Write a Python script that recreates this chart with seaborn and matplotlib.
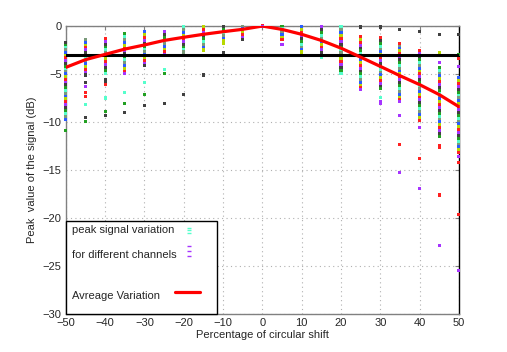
import numpy as np
import pandas as pd
import matplotlib
matplotlib.use("Agg")
import matplotlib.pyplot as plt
import seaborn as sns
from matplotlib.patches import Rectangle

# circular shift (%) and average peak variation (dB)
shifts = [-50, -45, -40, -35, -30, -25, -20, -15, -10, -5, 0,
          5, 10, 15, 20, 25, 30, 35, 40, 45, 50]
avg_db = [-4.3, -3.5, -2.95, -2.4, -1.97, -1.5, -1.17, -0.86, -0.59, -0.34, 0.0,
          -0.35, -0.86, -1.5, -2.3, -3.24, -4.2, -5.17, -6.1, -7.14, -8.4]

# peak values of the different channels, one list per shift
col_m50 = [-1.7, -2.0, -2.2, -2.5, -2.8, -3.1, -3.3, -3.6, -3.9, -4.2, -4.5, -4.7, -5.0, -5.3, -5.6,
           -5.9, -6.1, -6.4, -6.7, -7.0, -7.3, -7.6, -7.9, -8.2, -8.5, -8.8, -9.1, -9.4, -9.7]
col_m45 = [-1.4, -1.7, -2.0, -2.2, -2.5, -2.8, -3.1, -3.4, -3.6, -3.9, -4.2, -4.5, -4.8, -5.1]
col_m40 = [-1.3, -1.6, -1.9, -2.2, -2.5, -2.8, -3.1, -3.4, -3.7, -4.0, -4.3, -4.6, -4.9]
col_m35 = [-0.8, -1.1, -1.4, -1.7, -2.0, -2.3, -2.6, -2.9, -3.2, -3.5, -3.8, -4.1, -4.4, -4.7, -4.9]
col_m30 = [-0.6, -0.9, -1.2, -1.5, -1.8, -2.1, -2.4, -2.7, -3.0, -3.3, -3.6, -3.9, -4.1]
col_m25 = [-0.6, -0.9, -1.2, -1.5, -1.8, -2.1, -2.4, -2.7, -3.0]
col_m20 = [-0.1, -0.4, -0.7, -1.0, -1.3, -1.6, -1.9, -2.2, -2.5, -2.7]
col_m15 = [-0.1, -0.4, -0.7, -1.0, -1.3, -1.6, -1.9, -2.2, -2.5]
col_m10 = [-0.1, -0.4, -0.7, -1.0, -1.3, -1.5]
col_m5 = [-0.05, -0.3, -0.6, -0.9, -1.2, -1.4]
col_0 = [0.0, -0.05]
col_5 = [-0.05, -0.3, -0.6, -0.9, -1.2, -1.4]
col_10 = [-0.1, -0.4, -0.7, -1.0, -1.3, -1.6, -1.9, -2.2, -2.5, -2.7]
col_15 = [-0.1, -0.4, -0.7, -1.0, -1.3, -1.6, -1.9, -2.2, -2.5, -2.8, -3.1, -3.3]
col_20 = [-0.1, -0.4, -0.7, -1.0, -1.3, -1.6, -1.9, -2.2, -2.5, -2.8, -3.1, -3.4, -3.7,
          -4.0, -4.3, -4.6, -4.9]
col_25 = [-1.4, -1.7, -2.0, -2.3, -2.6, -2.9, -3.2, -3.5, -3.8, -4.1, -4.4, -4.7, -5.0,
          -5.3, -5.6, -5.9, -6.2, -6.4, -6.6]
col_30 = [-1.5, -1.8, -2.1, -2.4, -2.7, -3.0, -3.3, -3.6, -3.9, -4.2, -4.5, -4.8, -5.1,
          -5.4, -5.7, -6.0, -6.3, -6.5]
col_35 = [-2.0, -2.3, -2.6, -2.9, -3.2, -3.5, -3.8, -4.1, -4.4, -4.7, -5.0, -5.3, -5.6,
          -5.9, -6.2, -6.5, -6.8, -7.1, -7.4, -7.7, -7.9]
col_40 = [-2.6, -2.9, -3.2, -3.5, -3.8, -4.1, -4.4, -4.7, -5.0, -5.3, -5.6, -5.9, -6.2,
          -6.5, -6.8, -7.1, -7.4, -7.7, -8.0, -8.3, -8.6, -8.9, -9.2, -9.5, -9.8]
col_45 = [-4.3, -4.6, -4.9, -5.2, -5.5, -5.8, -6.1, -6.4, -6.7, -7.0, -7.3, -7.6, -7.9,
          -8.2, -8.5, -8.8, -9.1, -9.4, -9.7, -10.0, -10.3, -10.6, -10.9, -11.2, -11.5]
col_50 = [-5.4, -5.7, -6.0, -6.3, -6.6, -6.9, -7.2, -7.5, -7.8, -8.1, -8.4, -8.7, -9.0,
          -9.3, -9.6, -9.9, -10.2, -10.5, -10.8, -11.1, -11.4, -11.7, -12.0, -12.3, -12.6,
          -12.9, -13.2, -13.6]

columns = [col_m50, col_m45, col_m40, col_m35, col_m30, col_m25, col_m20, col_m15, col_m10,
           col_m5, col_0, col_5, col_10, col_15, col_20, col_25, col_30, col_35, col_40,
           col_45, col_50]

# isolated channel points (shift, dB, channel)
out_x = [-50, -45, -45, -45, -45, -45, -45, -45, -40, -40, -40, -40, -40, -40,
         -35, -35, -35, -30, -30, -30, -25, -25, -25, -20, -15, -10, -10, 5,
         25, 25, 30, 30, 30, 30, 30, 35, 35, 35, 35, 35, 40, 40, 40, 40,
         45, 45, 45, 45, 45, 45, 45, 50, 50, 50, 50, 50, 50, 50]
out_y = [-10.9, -5.9, -6.3, -6.9, -7.3, -8.2, -9.5, -9.9, -5.6, -5.8, -6.1, -7.5, -8.9, -9.3,
         -6.9, -8.1, -9.0, -5.9, -7.1, -8.3, -4.5, -4.9, -8.1, -7.1, -5.1, -1.8, -2.8, -1.9,
         -0.1, -1.1, -0.1, -1.15, -7.4, -7.9, -8.1, -0.35, -1.8, -9.3, -12.3, -15.3,
         -0.6, -10.6, -13.8, -16.9,
         -0.85, -2.8, -3.8, -12.4, -12.65, -17.6, -22.9,
         -0.85, -3.0, -3.4, -4.2, -14.2, -19.6, -25.5]
out_ch = [1, 6, 3, 0, 0, 4, 6, 1, 6, 6, 0, 4, 1, 6,
          4, 1, 6, 4, 1, 6, 4, 1, 6, 6, 6, 5, 6, 3,
          6, 0, 6, 0, 4, 3, 3, 6, 0, 3, 0, 3,
          6, 3, 0, 3,
          6, 5, 3, 0, 0, 0, 3,
          6, 1, 0, 3, 0, 0, 3]

channel_colors = ["#ff2020", "#22a022", "#2a5cff", "#a633ff",
                  "#55ffcc", "#b8d800", "#404040", "#7a9a7a"]

rows = []
for s, vals in zip(shifts, columns):
    for i, v in enumerate(vals):
        rows.append((s, v, (i * 3 + s // 5) % 8))
for s, v, c in zip(out_x, out_y, out_ch):
    rows.append((s, v, c))
df = pd.DataFrame(rows, columns=["shift", "peak", "channel"])

sns.set_style("white")
plt.rcParams["font.family"] = ["Liberation Sans", "DejaVu Sans"]
plt.rcParams["font.size"] = 8

fig = plt.figure(figsize=(5.07, 3.52), dpi=100)
ax = fig.add_axes([0.130, 0.108, 0.775, 0.818])

sc = sns.scatterplot(data=df, x="shift", y="peak", hue="channel",
                     palette=dict(enumerate(channel_colors)), marker="s", s=5,
                     linewidth=0, legend=False, ax=ax, zorder=3)
for coll in ax.collections:
    coll.set_clip_on(False)

ax.axhline(-3, color="black", lw=2.2, zorder=4)
sns.lineplot(x=shifts, y=avg_db, color="#ff0000", lw=2.3, ax=ax, zorder=5)

ax.set_xlim(-50, 50)
ax.set_ylim(-30, 0)
ax.set_xticks(range(-50, 51, 10))
ax.set_yticks(range(-30, 1, 5))
ax.grid(True, linestyle=(0, (1, 3)), color="#b0b0b0", lw=0.8)
ax.tick_params(direction="in", length=3, top=True, right=True, color="#808080",
               labelsize=8, pad=3)
for side in ["left", "bottom", "top"]:
    ax.spines[side].set_color("#808080")
ax.spines["right"].set_color("black")
for sp in ax.spines.values():
    sp.set_linewidth(1.0)

ax.set_xlabel("Percentage of circular shift", fontsize=8, labelpad=1)
ax.set_ylabel("Peak  value of the signal (dB)", fontsize=8, labelpad=4)

# legend box drawn by hand (MATLAB style)
ax.add_patch(Rectangle((-50, -30), 38.4, 9.7, facecolor="white", edgecolor="black",
                       lw=1.0, zorder=6, clip_on=False))
ax.text(-48.5, -21.3, "peak signal variation", fontsize=8, va="center", zorder=7)
ax.text(-48.5, -23.9, "for different channels", fontsize=8, va="center", zorder=7)
ax.text(-48.5, -28.1, "Avreage Variation", fontsize=8, va="center", zorder=7)
ax.plot([-18.8] * 3, [-21.0, -21.3, -21.6], ls="none", marker="_", ms=2.5,
        color="#55ffcc", zorder=7)
ax.plot([-18.8] * 3, [-22.9, -23.45, -24.0], ls="none", marker="_", ms=2.5,
        color="#a633ff", zorder=7)
ax.plot([-22.3, -15.8], [-27.7, -27.7], color="#ff0000", lw=2.3, zorder=7)

fig.savefig("out.png", dpi=100)
